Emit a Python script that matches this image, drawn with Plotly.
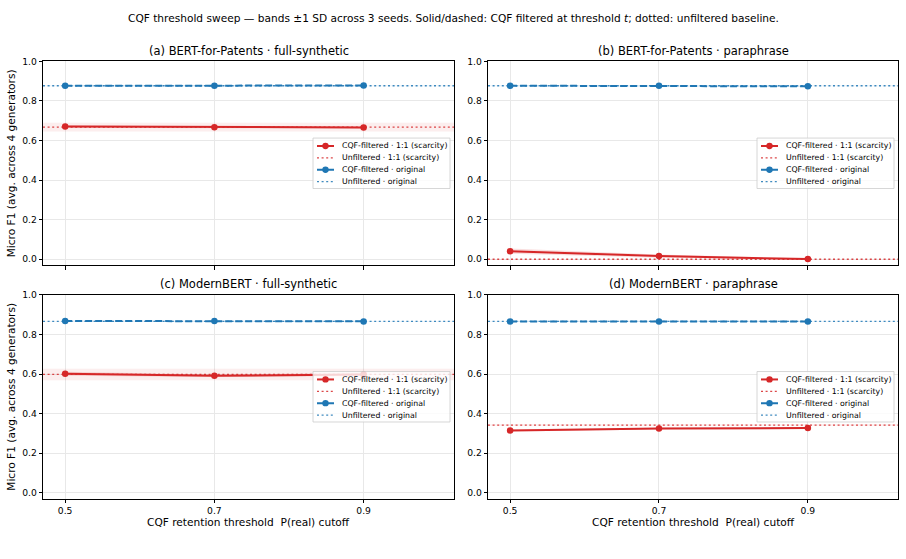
import plotly.graph_objects as go

# ---------------- data ----------------
thresholds = [0.5, 0.7, 0.9]
tick_labels = ["0.5", "0.7", "0.9"]
panel_titles = [
    "(a) BERT-for-Patents · full-synthetic",
    "(b) BERT-for-Patents · paraphrase",
    "(c) ModernBERT · full-synthetic",
    "(d) ModernBERT · paraphrase",
]
legend_labels = [
    "CQF-filtered · 1:1 (scarcity)",
    "Unfiltered · 1:1 (scarcity)",
    "CQF-filtered · original",
    "Unfiltered · original",
]
# 1:1 (scarcity) regime
scar_cqf = [[0.671, 0.667, 0.666], [0.041, 0.016, 0.001],
            [0.601, 0.591, 0.598], [0.315, 0.324, 0.327]]
scar_cqf_sd = [[0.006, 0.005, 0.005], [0.013, 0.008, 0.003],
               [0.010, 0.006, 0.008], [0.006, 0.005, 0.005]]
scar_base = [0.668, 0.000, 0.598, 0.342]
scar_base_sd = [0.022, 0.001, 0.029, 0.004]
# original regime
orig_cqf = [[0.877, 0.877, 0.878], [0.877, 0.877, 0.874],
            [0.868, 0.868, 0.866], [0.866, 0.866, 0.866]]
orig_cqf_sd = [[0.003, 0.003, 0.003], [0.003, 0.003, 0.003],
               [0.003, 0.003, 0.003], [0.003, 0.003, 0.003]]
orig_base = [0.877, 0.877, 0.866, 0.866]
orig_base_sd = [0.002, 0.002, 0.002, 0.002]

suptitle = ("CQF threshold sweep — bands ±1 SD across 3 seeds. Solid/dashed: CQF "
            "filtered at threshold <i>t</i>; dotted: unfiltered baseline.")
xlabel = "CQF retention threshold  P(real) cutoff"
ylabel = "Micro F1 (avg. across 4 generators)"

# ---------------- style ----------------
W, H = 906, 559
RED = "#d62728"
BLUE = "#1f77b4"
FONT = "DejaVu Sans"
XR = [0.4703, 1.0211]
YR = [-0.03, 1.0]

def fx(px):
    return px / W

def fy(py):
    return 1 - py / H

# panel pixel boxes: (left, right, top, bottom)
boxes = [(43, 454, 56, 262), (488, 898, 56, 262),
         (43, 454, 292, 498), (488, 898, 292, 498)]

fig = go.Figure()
layout = dict(
    width=W, height=H, margin=dict(l=0, r=0, t=0, b=0),
    plot_bgcolor="white", paper_bgcolor="white",
    font=dict(family=FONT, color="black"),
    showlegend=False, hovermode=False,
)
shapes, annotations = [], []

def rgba(hexc, a):
    h = hexc.lstrip("#")
    return "rgba(%d,%d,%d,%s)" % (int(h[0:2], 16), int(h[2:4], 16), int(h[4:6], 16), a)

for i, (l, r, t, b) in enumerate(boxes):
    n = "" if i == 0 else str(i + 1)
    xa, ya = "x" + n, "y" + n
    bottom_row = i >= 2
    layout["xaxis" + n] = dict(
        domain=[fx(l), fx(r)], anchor=ya, range=XR,
        tickvals=thresholds, ticktext=tick_labels, showticklabels=bottom_row,
        ticks="outside", ticklen=3.5, tickwidth=0.8, tickcolor="black",
        tickfont=dict(size=9.2), showline=True, mirror=True,
        linecolor="black", linewidth=0.8, showgrid=True,
        gridcolor="#e8e8e8", gridwidth=0.8, zeroline=False,
    )
    layout["yaxis" + n] = dict(
        domain=[fy(b), fy(t)], anchor=xa, range=YR,
        tickvals=[0, 0.2, 0.4, 0.6, 0.8, 1.0],
        ticktext=["0.0", "0.2", "0.4", "0.6", "0.8", "1.0"],
        ticks="outside", ticklen=3.5, tickwidth=0.8, tickcolor="black",
        tickfont=dict(size=9.2), showline=True, mirror=True,
        linecolor="black", linewidth=0.8, showgrid=True,
        gridcolor="#e8e8e8", gridwidth=0.8, zeroline=False,
    )

    # unfiltered baselines: bands + dotted lines across the axis
    for mean, sd, col in [(scar_base[i], scar_base_sd[i], RED),
                          (orig_base[i], orig_base_sd[i], BLUE)]:
        fig.add_trace(go.Scatter(
            x=[XR[0], XR[1], XR[1], XR[0]],
            y=[mean - sd, mean - sd, mean + sd, mean + sd],
            fill="toself", fillcolor=rgba(col, 0.08), line=dict(width=0),
            mode="lines", xaxis=xa, yaxis=ya, hoverinfo="skip"))
        fig.add_trace(go.Scatter(
            x=[XR[0], XR[1]], y=[mean, mean], mode="lines",
            line=dict(color=rgba(col, 0.85), width=1.3, dash="2px,2.6px"),
            xaxis=xa, yaxis=ya, hoverinfo="skip", cliponaxis=True))

    # CQF filtered lines with bands
    for mean, sd, col, dash in [(scar_cqf[i], scar_cqf_sd[i], RED, "solid"),
                                (orig_cqf[i], orig_cqf_sd[i], BLUE, "7px,3px")]:
        up = [m + s for m, s in zip(mean, sd)]
        lo = [m - s for m, s in zip(mean, sd)]
        fig.add_trace(go.Scatter(
            x=thresholds + thresholds[::-1], y=up + lo[::-1],
            fill="toself", fillcolor=rgba(col, 0.15),
            line=dict(width=0), mode="lines", xaxis=xa, yaxis=ya,
            hoverinfo="skip"))
        fig.add_trace(go.Scatter(
            x=thresholds, y=mean, mode="lines+markers", xaxis=xa, yaxis=ya,
            line=dict(color=col, width=2, dash=dash),
            marker=dict(color=col, size=6.5, line=dict(width=0))))

    # subplot title
    annotations.append(dict(text=panel_titles[i], x=fx((l + r) / 2),
                            y=fy(t - 11), xref="paper", yref="paper",
                            xanchor="center", yanchor="middle",
                            showarrow=False, font=dict(size=11.5)))
    if bottom_row:
        annotations.append(dict(text=xlabel, x=fx((l + r) / 2), y=fy(522),
                                xref="paper", yref="paper", xanchor="center",
                                yanchor="middle", showarrow=False,
                                font=dict(size=10.6)))
    if i % 2 == 0:
        annotations.append(dict(text=ylabel, x=fx(11), y=fy((t + b) / 2),
                                xref="paper", yref="paper", xanchor="center",
                                yanchor="middle", textangle=-90,
                                showarrow=False, font=dict(size=10.6)))

    # manual legend (center right)
    bw, bh = 137, 51
    bx1 = r - 4
    bx0 = bx1 - bw
    by0 = (t + b) / 2 - bh / 2
    by1 = by0 + bh
    shapes.append(dict(type="rect", xref="paper", yref="paper",
                       x0=fx(bx0), x1=fx(bx1), y0=fy(by1), y1=fy(by0),
                       fillcolor="rgba(255,255,255,0.8)",
                       line=dict(color="#cccccc", width=0.8), layer="above"))
    styles = [(RED, "solid", 2, True), (rgba(RED, 0.85), "2px,2.6px", 1.3, False),
              (BLUE, "7px,3px", 2, True), (rgba(BLUE, 0.85), "2px,2.6px", 1.3, False)]
    for k, (col, dash, wdt, mk) in enumerate(styles):
        ry = by0 + 8 + 12 * k
        shapes.append(dict(type="line", xref="paper", yref="paper",
                           x0=fx(bx0 + 4), x1=fx(bx0 + 21), y0=fy(ry), y1=fy(ry),
                           line=dict(color=col, width=wdt, dash=dash), layer="above"))
        if mk:
            cx = bx0 + 12.5
            shapes.append(dict(type="circle", xref="paper", yref="paper",
                               x0=fx(cx - 3.2), x1=fx(cx + 3.2),
                               y0=fy(ry + 3.2), y1=fy(ry - 3.2),
                               fillcolor=col, line=dict(width=0), layer="above"))
        annotations.append(dict(text=legend_labels[k], x=fx(bx0 + 27), y=fy(ry),
                                xref="paper", yref="paper", xanchor="left",
                                yanchor="middle", showarrow=False,
                                font=dict(size=7.8)))

annotations.append(dict(text=suptitle, x=0.5, y=fy(12), xref="paper", yref="paper",
                        xanchor="center", yanchor="middle", showarrow=False,
                        font=dict(size=10.6)))

layout["shapes"] = shapes
layout["annotations"] = annotations
fig.update_layout(**layout)
fig.write_html("out.html")
